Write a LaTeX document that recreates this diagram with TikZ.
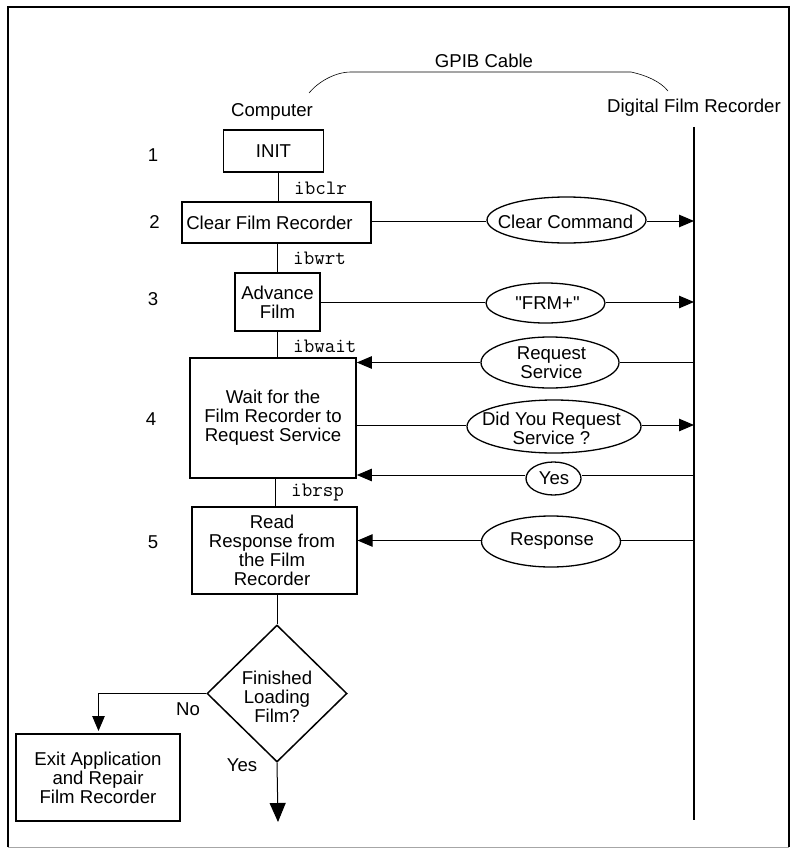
\documentclass[tikz,border=0pt]{standalone}
\usepackage{fontspec}
\setmainfont{Liberation Sans}
\newfontfamily\rawsans{Liberation Sans}
\usetikzlibrary{arrows.meta,shapes.geometric}
\tikzset{
  x=1pt,y=-1pt,
  txt/.style={font=\rawsans\fontsize{18.6}{19}\selectfont,align=center,inner sep=0pt},
  cmd/.style={font=\ttfamily\fontsize{20.5}{22}\selectfont,inner sep=0pt,anchor=west},
  boxn/.style={draw,line width=1.7pt,txt,rectangle},
  oval/.style={draw,line width=1.3pt,ellipse,fill=white,inner sep=0pt},
  link/.style={line width=1pt},
  msg/.style={line width=1pt,-{Triangle[length=15pt,width=12.5pt]}},
  big/.style={line width=1pt,-{Triangle[length=19pt,width=16pt]}},
}
\begin{document}
\begin{tikzpicture}
\useasboundingbox (0,0) rectangle (791,848);
\draw[line width=2.5pt] (8,847) -- (8,7) -- (789,7) -- (789,847);
\draw[line width=1pt,gray!70] (8,847) -- (789,847);
\node[txt] (title) at (484,60.5) {GPIB Cable};
\node[txt] (comp) at (272,111.5) {Computer};
\node[txt] (dfr) at (694,108) {Digital Film Recorder};
\coordinate (ca) at (309,93);
\coordinate (cb) at (668,91);
\draw[line width=.6pt] (ca) .. controls (318,82) and (335,72) .. (351,72) -- (631,72) .. controls (645,75) and (660,81) .. (cb);
\coordinate (bust) at (694,127);
\coordinate (busb) at (694,820);
\draw[line width=2.2pt] (bust) -- (busb);
\foreach \t/\xx/\y/\n in {1/153/155/a,2/154.5/222/b,3/153/299/c,4/151/419/d,5/153/542/e}
  \node[txt] (num\n) at (\xx,\y) {\t};
\node[boxn,minimum width=100pt,minimum height=42pt] (init) at (273.5,151) {INIT};
\node[boxn,minimum width=189pt,minimum height=41pt] (clear) at (276.5,222.5) {\kern-14pt Clear Film Recorder};
\node[boxn,minimum width=85pt,minimum height=58pt] (adv) at (277.5,302) {Advance\\Film};
\node[boxn,minimum width=166pt,minimum height=120pt] (wait) at (273,418) {Wait for the\\Film Recorder to\\Request Service};
\node[boxn,minimum width=164.5pt,minimum height=87pt] (read) at (274.5,550.5) {};
\node[txt] (readtext) at (272,550.5) {Read\\Response from\\the Film\\Recorder};
\node[draw,line width=1.5pt,diamond,minimum width=140pt,minimum height=137pt,inner sep=0pt] (dec) at (277,693.5) {};
\node[txt] (dectext) at (277,697) {Finished\\Loading\\Film?};
\node[boxn,minimum width=164pt,minimum height=87pt] (exit) at (98,777.5) {Exit Application\\and Repair\\Film Recorder};
\node[cmd] (c1) at (294,188) {ibclr};
\node[cmd] (c2) at (293,258) {ibwrt};
\node[cmd] (c3) at (293,346) {ibwait};
\node[cmd] (c4) at (291,493) {ibrsp};
\draw[link] (init.south -| 278,0) -- (clear.north -| 278,0);
\draw[link] (clear.south -| 277,0) -- (adv.north -| 277,0);
\draw[link] (adv.south -| 277,0) -- (wait.north -| 277,0);
\draw[link] (wait.south -| 275,0) -- (read.north -| 275,0);
\draw[link] (read.south -| 277,0) -- (dec.north);
\node[oval,minimum width=159pt,minimum height=46pt] (m1) at (566.5,220) {};
\node[txt] (m1text) at (565.5,221.5) {Clear Command};
\node[oval,minimum width=119pt,minimum height=40pt] (m2) at (545.5,303) {};
\node[txt] (m2text) at (547.5,303) {"FRM+"};
\node[oval,minimum width=138pt,minimum height=51pt] (m3) at (550,362.5) {};
\node[txt] (m3text) at (551.5,362.5) {Request\\Service};
\node[oval,minimum width=174pt,minimum height=53pt] (m4) at (554,426.5) {};
\node[txt] (m4text) at (551.5,428) {Did You Request\\Service ?};
\node[oval,minimum width=55pt,minimum height=33pt] (m5) at (553.5,478.5) {};
\node[txt] (m5text) at (554,478.5) {Yes};
\node[oval,minimum width=139pt,minimum height=51pt] (m6) at (551,541.5) {};
\node[txt] (m6text) at (552,541) {Response};
\coordinate (y1) at (0,221);
\coordinate (y2) at (0,302);
\coordinate (y3) at (0,362.5);
\coordinate (y4) at (0,425);
\coordinate (y5) at (0,475);
\coordinate (y6) at (0,540.5);
\draw[link] (clear.east |- y1) -- (m1.west |- y1);
\draw[msg] (m1.east |- y1) -- (bust |- y1);
\draw[link] (adv.east |- y2) -- (m2.west |- y2);
\draw[msg] (m2.east |- y2) -- (bust |- y2);
\draw[link] (bust |- y3) -- (m3.east |- y3);
\draw[msg] (m3.west |- y3) -- (wait.east |- y3);
\draw[link] (wait.east |- y4) -- (m4.west |- y4);
\draw[msg] (m4.east |- y4) -- (bust |- y4);
\draw[link] (bust |- y5) -- (m5.east |- y5);
\draw[msg] (m5.west |- y5) -- (wait.east |- y5);
\draw[link] (bust |- y6) -- (m6.east |- y6);
\draw[msg] (m6.west |- y6) -- (read.east |- y6);
\coordinate (end) at (278,822);
\coordinate (exitin) at (98.5,731);
\draw[msg] (dec.west) -| (exitin);
\draw[big] (dec.south) -- (end);
\node[txt] (no) at (188,709) {No};
\node[txt] (yes) at (242,765) {Yes};
\end{tikzpicture}
\end{document}
